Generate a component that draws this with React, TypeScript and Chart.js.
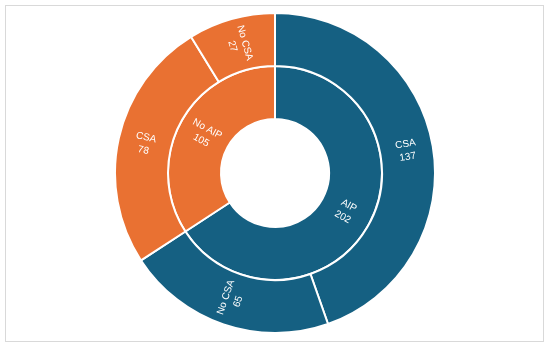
import React, { useEffect, useRef } from "react";
import { Chart, registerables } from "chart.js";

Chart.register(...registerables);

const outerLabels = ["CSA", "No CSA", "CSA", "No CSA"];
const outerValues = [137, 65, 78, 27];
const innerLabels = ["AIP", "No AIP"];
const innerValues = [202, 105];

const BLUE = "#156082";
const ORANGE = "#E97132";
const outerColors = [BLUE, BLUE, ORANGE, ORANGE];
const innerColors = [BLUE, ORANGE];

const labelPlugin = {
  id: "sunLabels",
  afterDatasetsDraw(chart: any) {
    const ctx = chart.ctx;
    ctx.save();
    ctx.fillStyle = "#ffffff";
    ctx.font = "10px 'Liberation Sans', Arial, sans-serif";
    ctx.textAlign = "center";
    ctx.textBaseline = "middle";
    chart.data.datasets.forEach((ds: any, di: number) => {
      const meta = chart.getDatasetMeta(di);
      meta.data.forEach((arc: any, i: number) => {
        const p = arc.getProps(["x", "y", "startAngle", "endAngle", "innerRadius", "outerRadius"], true);
        const mid = (p.startAngle + p.endAngle) / 2;
        const r = (p.innerRadius + p.outerRadius) / 2;
        const x = p.x + r * Math.cos(mid);
        const y = p.y + r * Math.sin(mid);
        let rot = mid;
        if (Math.cos(mid) < 0) rot = mid + Math.PI;
        ctx.save();
        ctx.translate(x, y);
        ctx.rotate(rot);
        ctx.fillText(ds.labelsText[i], 0, -6.5);
        ctx.fillText(String(ds.data[i]), 0, 6.5);
        ctx.restore();
      });
    });
    ctx.restore();
  },
};

export default function App() {
  const ref = useRef<HTMLCanvasElement>(null);
  useEffect(() => {
    if (!ref.current) return;
    const chart = new Chart(ref.current, {
      type: "doughnut",
      data: {
        labels: outerLabels,
        datasets: [
          {
            data: outerValues,
            backgroundColor: outerColors,
            borderColor: "#ffffff",
            borderWidth: 2,
            labelsText: outerLabels,
          } as any,
          {
            data: innerValues,
            backgroundColor: innerColors,
            borderColor: "#ffffff",
            borderWidth: 2,
            labelsText: innerLabels,
          } as any,
        ],
      },
      options: {
        responsive: false,
        animation: false,
        cutout: "33.75%",
        layout: { padding: 0 },
        plugins: { legend: { display: false }, tooltip: { enabled: false } },
      },
      plugins: [labelPlugin],
    });
    return () => chart.destroy();
  }, []);
  return (
    <div style={{ position: "absolute", left: 0, top: 0, width: 550, height: 348, background: "#fff" }}>
      <div
        style={{
          position: "absolute",
          left: 5,
          top: 5,
          width: 539,
          height: 337,
          border: "1px solid #d9d9d9",
          boxSizing: "border-box",
        }}
      />
      <canvas
        ref={ref}
        width={322}
        height={322}
        style={{ position: "absolute", left: 114, top: 12, width: 322, height: 322 }}
      />
    </div>
  );
}
